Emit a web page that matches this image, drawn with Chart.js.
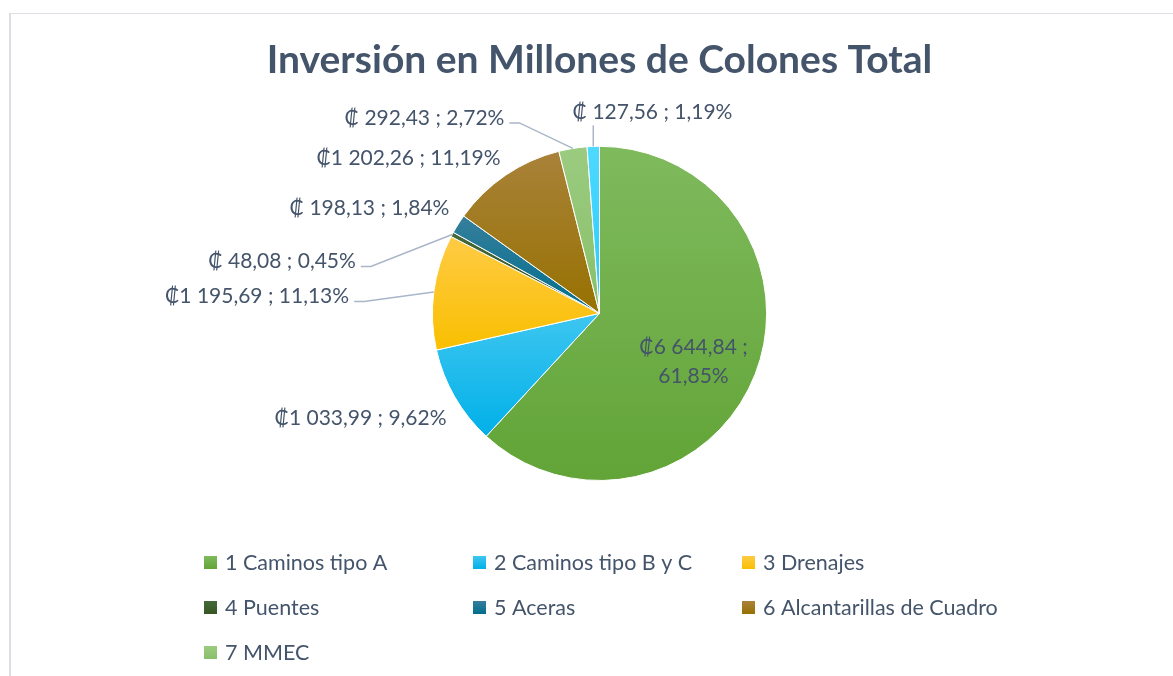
<!DOCTYPE html>
<html>
<head>
<meta charset="utf-8">
<title>Inversión en Millones de Colones Total</title>
<script src="https://cdn.jsdelivr.net/npm/chart.js"></script>
<style>
  body { margin: 0; background: #fff; }
  #frame { position: absolute; left: 9px; top: 13px; width: 1300px; height: 800px; border-style: solid; border-color: #dcdfe5; border-width: 1px 0 0 2px; }
  #wrap { position: absolute; left: 0; top: 0; width: 1173px; height: 676px; }
</style>
</head>
<body>
<div id="frame"></div>
<div id="wrap"><canvas id="pie"></canvas></div>
<script>
const categories = ['1 Caminos tipo A', '2 Caminos tipo B y C', '3 Drenajes', '4 Puentes', '5 Aceras', '6 Alcantarillas de Cuadro', '7 MMEC', '8 Otros'];
const investment = [6644.84, 1033.99, 1195.69, 48.08, 198.13, 1202.26, 292.43, 127.56];
const legendCount = 7;

// top (light) and bottom (base) colour of each slice gradient
const lightColors = ['#7fba5d', '#3ec6f0', '#ffcb45', '#46683a', '#367f9b', '#a9823a', '#9bcb80', '#4fd9ff'];
const baseColors  = ['#62a437', '#00b0e8', '#f9bf00', '#375623', '#006e8e', '#977100', '#88c06a', '#22ccff'];

const textColor = '#44546a';
const fontFamily = 'Lato, "DejaVu Sans", sans-serif';
const total = investment.reduce((a, b) => a + b, 0);

function money(v) {
  let [ip, dp] = v.toFixed(2).split('.');
  ip = ip.replace(/\B(?=(\d{3})+(?!\d))/g, ' ');
  return (v < 1000 ? '₡ ' : '₡') + ip + ',' + dp;
}
function pct(v) {
  return (v / total * 100).toFixed(2).replace('.', ',') + '%';
}

// label placement relative to the pie centre
const labelLayout = [
  { dx: 94, dy: 48, wrap: true },
  { dx: -239, dy: 104.5 },
  { dx: -342.5, dy: -17, leader: 'side' },
  { dx: -317.5, dy: -52, leader: 'side' },
  { dx: -230, dy: -105.5 },
  { dx: -191, dy: -155 },
  { dx: -175, dy: -195.5, leader: 'side' },
  { dx: 53, dy: -201, leader: 'below' }
];

function sliceYRange(i, cx, cy, r) {
  const before = investment.slice(0, i).reduce((a, b) => a + b, 0);
  const s = -Math.PI / 2 + 2 * Math.PI * before / total;
  const e = s + 2 * Math.PI * investment[i] / total;
  const ys = [cy, cy + r * Math.sin(s), cy + r * Math.sin(e)];
  if (s < Math.PI / 2 && e > Math.PI / 2) ys.push(cy + r);
  if (s <= -Math.PI / 2 + 1e-6 || e >= 3 * Math.PI / 2 - 1e-6) ys.push(cy - r);
  return [Math.min(...ys), Math.max(...ys)];
}

function sliceFill(ctx) {
  const i = ctx.dataIndex;
  const a = ctx.chart.chartArea;
  if (!a) return baseColors[i];
  const cx = (a.left + a.right) / 2, cy = (a.top + a.bottom) / 2;
  const r = Math.min(a.width, a.height) / 2;
  const [y0, y1] = sliceYRange(i, cx, cy, r);
  const g = ctx.chart.ctx.createLinearGradient(0, y0, 0, y1 + 0.01);
  g.addColorStop(0, lightColors[i]);
  g.addColorStop(1, baseColors[i]);
  return g;
}

const pieLabels = {
  id: 'pieLabels',
  afterDatasetsDraw(chart) {
    const c = chart.ctx;
    const arcs = chart.getDatasetMeta(0).data;
    c.save();
    c.font = '21px ' + fontFamily;
    c.fillStyle = textColor;
    c.textAlign = 'center';
    c.textBaseline = 'middle';
    arcs.forEach((arc, i) => {
      const L = labelLayout[i];
      const tx = arc.x + L.dx, ty = arc.y + L.dy;
      const mid = (arc.startAngle + arc.endAngle) / 2;
      const px = arc.x + Math.cos(mid) * arc.outerRadius;
      const py = arc.y + Math.sin(mid) * arc.outerRadius;
      if (L.wrap) {
        c.fillText(money(investment[i]) + ' ;', tx, ty - 14.5);
        c.fillText(pct(investment[i]), tx, ty + 14.5);
        return;
      }
      const txt = money(investment[i]) + ' ; ' + pct(investment[i]);
      c.fillText(txt, tx, ty);
      const w = c.measureText(txt).width;
      if (L.leader) {
        c.strokeStyle = '#a9b6c8';
        c.lineWidth = 1.5;
        c.beginPath();
        if (L.leader === 'side') {
          const sx = tx + w / 2 + 5, sy = ty + 5;
          c.moveTo(sx, sy);
          c.lineTo(sx + 10, sy);
          c.lineTo(px, py);
        } else {
          c.moveTo(px, ty + 13);
          c.lineTo(px, py);
        }
        c.stroke();
      }
    });
    c.restore();
  },
  afterDraw(chart) {
    const c = chart.ctx;
    c.save();
    c.font = '21.5px ' + fontFamily;
    c.textBaseline = 'middle';
    c.textAlign = 'left';
    for (let i = 0; i < legendCount; i++) {
      const x = 204 + 269 * (i % 3);
      const y = 562.5 + 45 * Math.floor(i / 3);
      const g = c.createLinearGradient(0, y - 6.5, 0, y + 6.5);
      g.addColorStop(0, lightColors[i]);
      g.addColorStop(1, baseColors[i]);
      c.fillStyle = g;
      c.fillRect(x, y - 6.5, 13, 13);
      c.fillStyle = textColor;
      c.fillText(categories[i], x + 21, y + 1);
    }
    c.restore();
  }
};

new Chart(document.getElementById('pie'), {
  type: 'pie',
  data: {
    labels: categories,
    datasets: [{
      data: investment,
      backgroundColor: sliceFill,
      borderColor: '#ffffff',
      borderWidth: 1
    }]
  },
  options: {
    responsive: true,
    maintainAspectRatio: false,
    animation: false,
    layout: { padding: { left: 26, right: 0, top: 12, bottom: 195 } },
    plugins: {
      legend: { display: false },
      tooltip: { enabled: false },
      title: {
        display: true,
        text: 'Inversión en Millones de Colones Total',
        color: textColor,
        font: { family: fontFamily, size: 39, weight: 'bold', lineHeight: 1.2 },
        padding: { top: 25, bottom: 62 }
      }
    }
  },
  plugins: [pieLabels]
});
</script>
</body>
</html>
